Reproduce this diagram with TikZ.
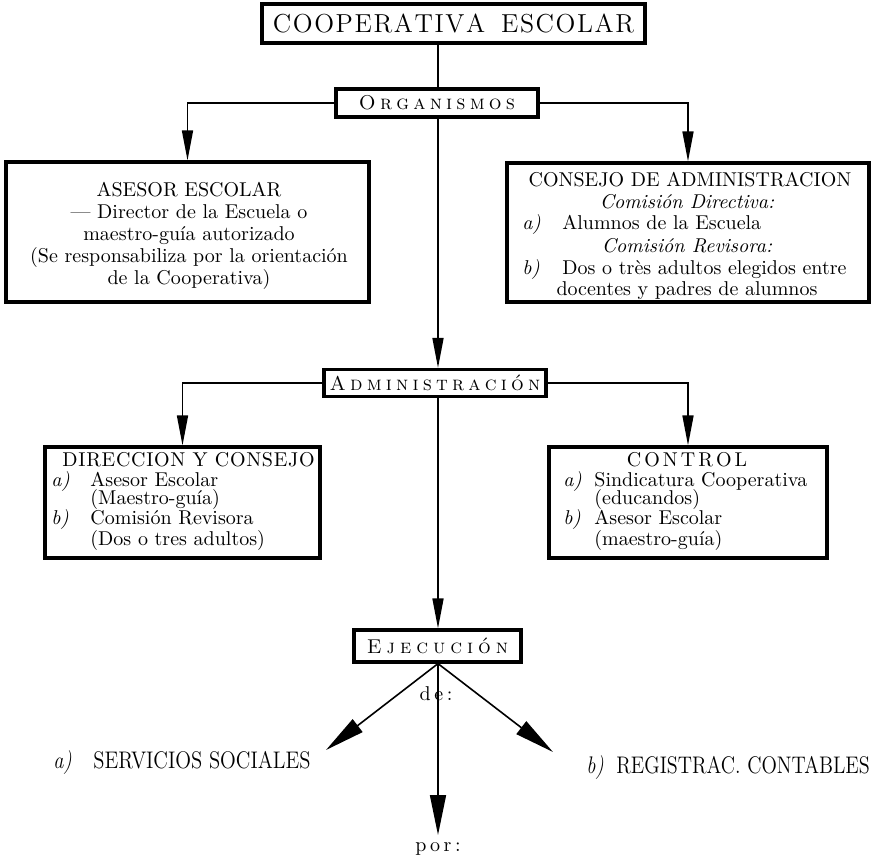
\documentclass[tikz,border=0pt]{standalone}
\usetikzlibrary{arrows.meta}
\makeatletter
\newcommand\spc[2]{\def\spc@gap{#1}\@tfor\spc@c:=#2\do{\spc@c\kern\spc@gap\relax}\unkern}
\makeatother
\newcommand\bodyfont{\fontsize{10}{11}\selectfont}
\newcommand\botfont{\fontsize{12}{14}\selectfont}
\begin{document}
\begin{tikzpicture}[x=0.5pt,y=-0.5pt,
  box/.style={draw, line width=1.6pt, inner sep=0pt},
  conn/.style={line width=0.8pt},
  arr/.style={conn, -{Triangle[length=15pt,width=5.5pt]}},
  bigarr/.style={conn, -{Triangle[length=20pt,width=8pt]}},
  txt/.style={inner sep=0pt, anchor=base west, font=\bodyfont},
  ctxt/.style={inner sep=0pt, anchor=base, font=\bodyfont},
  lbl/.style={inner sep=0pt, anchor=base west, font=\bodyfont\itshape},
  boxtitle/.style={inner sep=0pt, font=\fontsize{10}{12}\selectfont},
]
\useasboundingbox (0,0) rectangle (879,858);

% boxes
\node[box, minimum width=191.5pt, minimum height=19.5pt] (top) at (453.5,23.5) {};
\node[box, minimum width=101pt, minimum height=14pt] (org) at (437,103) {};
\node[box, minimum width=181.5pt, minimum height=70pt] (ases) at (187.5,232) {};
\node[box, minimum width=181pt, minimum height=69.5pt] (cons) at (688,232.5) {};
\node[box, minimum width=111pt, minimum height=13.5pt] (adm) at (435,383) {};
\node[box, minimum width=137.5pt, minimum height=55.5pt] (dir) at (182.5,502.5) {};
\node[box, minimum width=139pt, minimum height=55.5pt] (ctl) at (688,502.5) {};
\node[box, minimum width=83.5pt, minimum height=16pt] (eje) at (437.5,646) {};

% box titles
\node[inner sep=0pt, font=\fontsize{13}{15}\selectfont] (toptxt) at (top.center)
  {\spc{0.8pt}{COOPERATIVA}\kern8pt\spc{0.8pt}{ESCOLAR}};
\node[boxtitle] (orgtxt) at (org.center) {\textsc{\spc{2.1pt}{Organismos}}};
\node[boxtitle] (admtxt) at (adm.center) {\textsc{\spc{2.1pt}{Administración}}};
\node[boxtitle] (ejetxt) at (eje.center) {\textsc{\spc{2.5pt}{Ejecución}}};

% asesor
\node[inner sep=0pt, font=\bodyfont, align=center] (asestxt) at (189,236)
  {ASESOR ESCOLAR\\\textemdash\ Director de la Escuela o\\maestro-guía autorizado\\(Se responsabiliza por la orientación\\de la Cooperativa)};

% consejo
\node[ctxt] (c1) at (690,186) {CONSEJO DE ADMINISTRACION};
\node[ctxt, font=\bodyfont\itshape] (c2) at (687,208) {Comisión Directiva:};
\node[lbl] (c3a) at (522,229) {a)};
\node[txt] (c3) at (562,229) {Alumnos de la Escuela};
\node[ctxt, font=\bodyfont\itshape] (c4) at (687,252) {Comisión Revisora:};
\node[lbl] (c5a) at (522,274) {b)};
\node[txt] (c5) at (562,274) {Dos o très adultos elegidos entre};
\node[ctxt] (c6) at (687,295) {docentes y padres de alumnos};

% direccion
\node[txt] (d1) at (62,466) {\spc{0.35pt}{DIRECCION}\kern3.6pt Y\kern3.6pt\spc{0.35pt}{CONSEJO}};
\node[lbl] (d2a) at (51,486) {a)};
\node[txt] (d2) at (90,486) {Asesor Escolar};
\node[txt] (d3) at (90,504) {(Maestro-guía)};
\node[lbl] (d4a) at (51,524) {b)};
\node[txt] (d4) at (90,524) {Comisión Revisora};
\node[txt] (d5) at (90,545) {(Dos o tres adultos)};

% control
\node[ctxt] (k1) at (687,466) {\spc{1.5pt}{CONTROL}};
\node[lbl] (k2a) at (563,486) {a)};
\node[txt] (k2) at (594,486) {Sindicatura Cooperativa};
\node[txt] (k3) at (594,504) {(educandos)};
\node[lbl] (k4a) at (563,524) {b)};
\node[txt] (k4) at (594,524) {Asesor Escolar};
\node[txt] (k5) at (594,545) {(maestro-guía)};

% connectors
\coordinate (cx) at (438,0);
\draw[conn] (top.south -| cx) -- (org.north -| cx);
\draw[arr] (org.west) -| (ases.north);
\draw[arr] (org.east) -| (cons.north);
\draw[arr] (org.south -| cx) -- (adm.north -| cx);
\draw[arr] (adm.west) -| (dir.north);
\draw[arr] (adm.east) -| (ctl.north);
\draw[arr] (adm.south -| cx) -- (eje.north -| cx);

\coordinate (tipL) at (326,750);
\coordinate (tipR) at (553,752);
\coordinate (tipC) at (438,835);
\draw[bigarr] (eje.south -| cx) -- (tipL);
\draw[bigarr] (eje.south -| cx) -- (tipR);
\draw[bigarr] (eje.south -| cx) -- (tipC);

% bottom labels
\node[boxtitle] (de) at (436,694) {\spc{1.8pt}{de:}};
\node[inner sep=0pt, font=\botfont\itshape, anchor=base west] (sa) at (53,768) {\scalebox{0.85}[1]{a)}};
\node[inner sep=0pt, font=\botfont, anchor=base west] (s) at (93,768) {\scalebox{0.86}[1]{SERVICIOS SOCIALES}};
\node[inner sep=0pt, font=\botfont\itshape, anchor=base west] (rb) at (586,773) {\scalebox{0.85}[1]{b)}};
\node[inner sep=0pt, font=\botfont, anchor=base west] (r) at (616,773) {\scalebox{0.84}[1]{REGISTRAC. CONTABLES}};
\node[boxtitle] (por) at (438,849) {\spc{1.8pt}{por:}};
\end{tikzpicture}
\end{document}
